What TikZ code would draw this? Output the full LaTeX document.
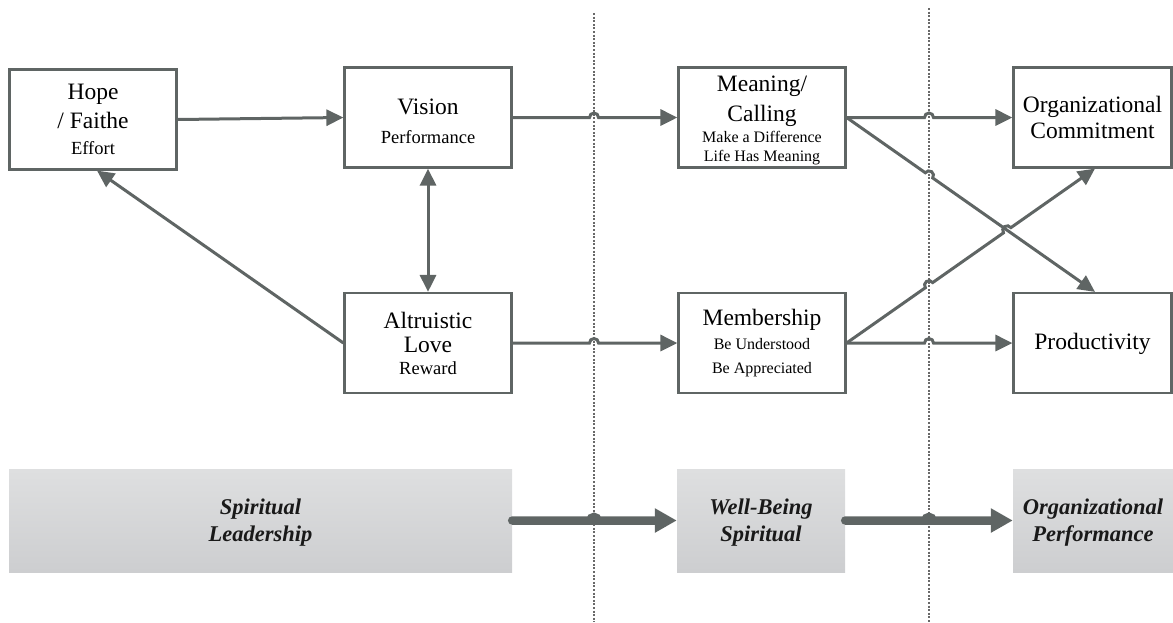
\documentclass[tikz,border=0pt]{standalone}
\usepackage{fontspec}
\setmainfont{Liberation Serif}
\usetikzlibrary{arrows.meta,calc,intersections}
\definecolor{lc}{RGB}{95,101,100}
\definecolor{gtop}{RGB}{222,223,224}
\definecolor{gbot}{RGB}{205,206,208}
\definecolor{dotc}{RGB}{105,105,105}
\newcommand{\midfont}{\fontsize{18.5}{22}\selectfont}
\newcommand{\smfont}{\fontsize{16}{19}\selectfont}
\begin{document}
\begin{tikzpicture}[x=1pt,y=1pt,
  box/.style={draw=lc, line width=2.2pt, fill=white, inner sep=0pt, align=center, text=black},
  conn/.style={draw=lc, line width=3pt, -{Triangle[length=17pt,width=16pt]}},
  bigconn/.style={draw=lc, line width=8.5pt, line cap=round, -{Triangle[length=22pt,width=23pt]}},
  gbox/.style={top color=gtop, bottom color=gbot, draw=none, inner sep=0pt, align=center,
    font=\fontsize{22.5}{27}\selectfont\bfseries\itshape, text=black!90},
  dotline/.style={draw=dotc, line width=1.1pt, dash pattern=on 2pt off 1.6pt}
]
\useasboundingbox (0,0) rectangle (1173,-622);

% dotted separators
\coordinate (d1t) at (594,-13);
\coordinate (d1b) at (594,-622);
\coordinate (d2t) at (929,-8);
\coordinate (d2b) at (929,-622);
\draw[dotline] (d1t) -- (d1b);
\draw[dotline] (d2t) -- (d2b);

% boxes
\node[box, minimum width=167pt, minimum height=100pt, font=\fontsize{23.5}{26}\selectfont] (hope) at (93,-119.5)
  {Hope\\[3pt]/ Faithe\\{\midfont Effort}};
\node[box, minimum width=167pt, minimum height=100pt, font=\fontsize{23.5}{29}\selectfont] (vision) at (428,-117.5)
  {\rule{0pt}{23pt}Vision\\{\midfont Performance}};
\node[box, minimum width=167pt, minimum height=100pt, font=\fontsize{23.5}{22}\selectfont] (altru) at (428,-343)
  {Altruistic\\[2pt]Love\\{\midfont Reward}};
\node[box, minimum width=167pt, minimum height=100pt, font=\fontsize{23.5}{19}\selectfont] (meaning) at (762,-117.5)
  {\rule{0pt}{22pt}Meaning/\\[8pt]Calling\\[2pt]{\smfont Make a Difference}\\{\smfont Life Has Meaning}};
\node[box, minimum width=167pt, minimum height=100pt, font=\fontsize{23.5}{23.5}\selectfont] (member) at (762,-343)
  {Membership\\[1pt]{\smfont Be Understood}\\{\smfont Be Appreciated}};
\node[box, minimum width=158pt, minimum height=100pt, font=\fontsize{23.5}{26}\selectfont] (orgc) at (1092.5,-117.5)
  {Organizational\\Commitment};
\node[box, minimum width=158pt, minimum height=100pt, font=\fontsize{23.5}{26}\selectfont] (prod) at (1092.5,-343)
  {\rule{0pt}{19pt}Productivity};

% gray boxes
\node[gbox, minimum width=503pt, minimum height=103pt] (sl) at (260.5,-520.5) {\rule{0pt}{20pt}Spiritual\\Leadership};
\node[gbox, minimum width=168pt, minimum height=103pt] (wb) at (761,-520.5) {\rule{0pt}{20pt}Well-Being\\Spiritual};
\node[gbox, minimum width=160pt, minimum height=103pt] (op) at (1093,-520.5) {\rule{0pt}{20pt}Organizational\\Performance};

% connectors, left part
\draw[conn] (hope.east) -- (vision.west);
\draw[conn, {Triangle[length=17pt,width=16pt]}-{Triangle[length=17pt,width=16pt]}] (vision.south) -- (altru.north);
\draw[conn] (altru.west) -- ([xshift=4pt]hope.south);

% horizontal connectors with line jumps
\draw[conn] (vision.east) -- ($(d1t |- vision.east)+(-4.5,0)$) arc[start angle=180,end angle=0,radius=4.5pt] -- (meaning.west);
\draw[conn] (altru.east) -- ($(d1t |- altru.east)+(-4.5,0)$) arc[start angle=180,end angle=0,radius=4.5pt] -- (member.west);
\draw[conn] (meaning.east) -- ($(d2t |- meaning.east)+(-4.5,0)$) arc[start angle=180,end angle=0,radius=4.5pt] -- (orgc.west);
\draw[conn] (member.east) -- ($(d2t |- member.east)+(-4.5,0)$) arc[start angle=180,end angle=0,radius=4.5pt] -- (prod.west);

% diagonal connectors
\path[name path=dl2] (d2t) -- (d2b);
\path[name path=mp] (meaning.east) -- ([xshift=2.5pt]prod.north);
\path[name path=mo] (member.east) -- ([xshift=2.5pt]orgc.south);
\path[name intersections={of=dl2 and mp, by=c1}];
\path[name intersections={of=dl2 and mo, by=c2}];
\path[name intersections={of=mp and mo, by=c3}];

\draw[conn] let \p1=($([xshift=2.5pt]prod.north)-(meaning.east)$), \n1={atan2(\y1,\x1)} in
  (meaning.east) -- ($(c1)!4.5pt!(meaning.east)$) arc[start angle=\n1+180, end angle=\n1, radius=4.5pt]
  -- ([xshift=2.5pt]prod.north);
\draw[conn] let \p1=($([xshift=2.5pt]orgc.south)-(member.east)$), \n1={atan2(\y1,\x1)} in
  (member.east) -- ($(c2)!4.5pt!(member.east)$) arc[start angle=\n1+180, end angle=\n1, radius=4.5pt]
  -- ($(c3)!4.5pt!(member.east)$) arc[start angle=\n1+180, end angle=\n1, radius=4.5pt]
  -- ([xshift=2.5pt]orgc.south);

% thick gray arrows
\draw[bigconn] (sl.east) -- ($(d1t |- sl.east)+(-3.5,0)$) arc[start angle=180,end angle=0,radius=3.5pt] -- (wb.west);
\draw[bigconn] (wb.east) -- ($(d2t |- wb.east)+(-3.5,0)$) arc[start angle=180,end angle=0,radius=3.5pt] -- (op.west);
\end{tikzpicture}
\end{document}
